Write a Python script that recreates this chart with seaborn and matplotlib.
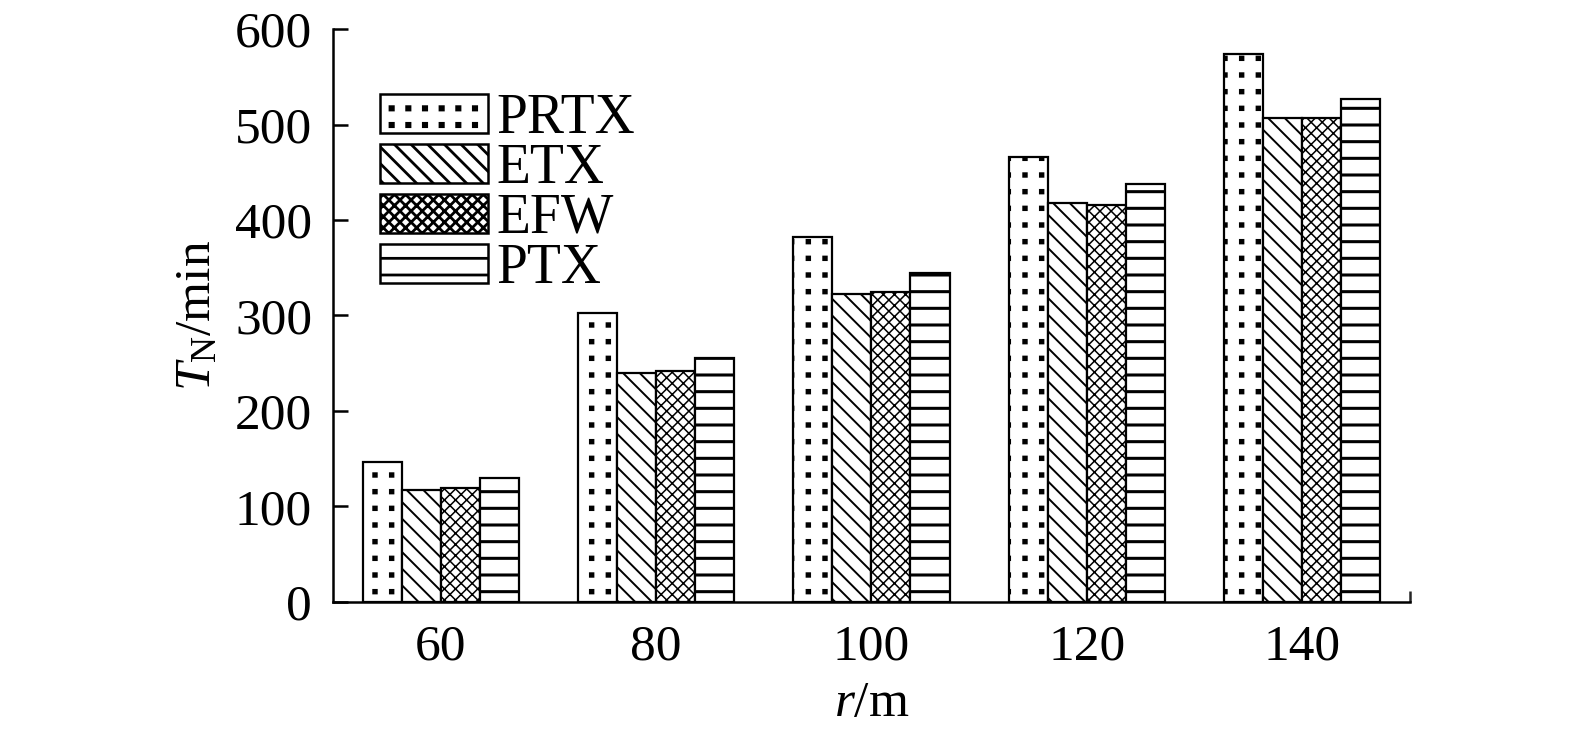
import matplotlib
matplotlib.use("Agg")
import matplotlib.pyplot as plt
import matplotlib.hatch as mhatch
from matplotlib.path import Path
import numpy as np
import seaborn as sns
import pandas as pd

categories = ["60", "80", "100", "120", "140"]
series_names = ["PRTX", "ETX", "EFW", "PTX"]
PRTX = [147, 303, 382, 466, 574]
ETX = [117, 240, 322, 418, 507]
EFW = [119, 242, 325, 416, 507]
PTX = [130, 256, 345, 438, 527]
y_ticks = [0, 100, 200, 300, 400, 500, 600]


# square-grid dot hatch (non-staggered filled squares) for '.'
class SquareDots(mhatch.HatchPatternBase):
    def __init__(self, hatch, density):
        self.num_rows = hatch.count('.') * density
        self.num_vertices = self.num_rows ** 2 * 5

    def set_vertices_and_codes(self, vertices, codes):
        n = self.num_rows
        h = 0.10 / n
        sq = np.array([[-h, -h], [h, -h], [h, h], [-h, h], [-h, -h]])
        sc = [Path.MOVETO, Path.LINETO, Path.LINETO, Path.LINETO, Path.CLOSEPOLY]
        vparts, cparts = [], []
        for i in range(n):
            for j in range(n):
                vparts.append(sq + [(i + 0.5) / n, (j + 0.5) / n])
                cparts.append(sc)
        np.concatenate(vparts, out=vertices)
        np.concatenate(cparts, out=codes)


mhatch._hatch_types[:] = [t for t in mhatch._hatch_types
                          if t is not mhatch.SmallFilledCircles] + [SquareDots]

sns.set_theme(style="white")
plt.rcParams["font.family"] = ["Liberation Serif", "DejaVu Serif"]
plt.rcParams["mathtext.fontset"] = "custom"
plt.rcParams["mathtext.rm"] = "Liberation Serif"
plt.rcParams["mathtext.it"] = "Liberation Serif:italic"
plt.rcParams["hatch.linewidth"] = 2.0
plt.rcParams["hatch.color"] = "black"
plt.rcParams["text.color"] = "black"

rows = []
for name, vals in zip(series_names, [PRTX, ETX, EFW, PTX]):
    for c, v in zip(categories, vals):
        rows.append({"r": c, "T": v, "method": name})
df = pd.DataFrame(rows)

fig = plt.figure(figsize=(15.75, 7.4), dpi=100)
ax = fig.add_axes([0.2114, 0.1865, 0.6838, 0.7743])

sns.barplot(data=df, x="r", y="T", hue="method", order=categories,
            hue_order=series_names, width=0.725, gap=0,
            palette=["white"] * 4, edgecolor="black", linewidth=1.6,
            ax=ax, legend=False, errorbar=None)

hatches = [".", "\\\\", "xxx", "-"]
hlw = [1.5, 1.4, 1.1, 2.2]
for cont, h, lw in zip(ax.containers, hatches, hlw):
    for p in cont.patches:
        p.set_hatch(h)
        p.set_facecolor("white")
        p.set_edgecolor("black")
        if hasattr(p, "set_hatch_linewidth"):
            p.set_hatch_linewidth(lw)

ax.set_xlim(-0.5, 4.5)
ax.set_ylim(0, 600)
ax.set_yticks(y_ticks)
ax.set_yticklabels([str(t) for t in y_ticks])
for s in ["top", "right"]:
    ax.spines[s].set_visible(False)
for s in ["left", "bottom"]:
    ax.spines[s].set_linewidth(1.8)
    ax.spines[s].set_color("black")

ax.tick_params(axis="y", direction="in", length=11, width=1.8, labelsize=37,
               pad=15, colors="black", left=True)
ax.tick_params(axis="x", length=0, labelsize=37, pad=16, colors="black")
ax.set_xticks([4.5], minor=True)
ax.tick_params(axis="x", which="minor", direction="in", length=8, width=1.8,
               bottom=True)

ax.set_xlabel(r"$r$/m", fontsize=37, color="black", labelpad=7)
ax.set_ylabel(r"$T_{\mathrm{N}}$/min", fontsize=37, color="black", labelpad=10)

leg = ax.legend(ax.containers, series_names, loc="upper left",
                bbox_to_anchor=(0.044, 0.888), frameon=False, fontsize=40,
                handlelength=1.94, handleheight=0.70, labelspacing=-0.04,
                handletextpad=0.15, borderpad=0, borderaxespad=0)
for h in leg.legend_handles:
    h.set_linewidth(1.8)
for t in leg.get_texts():
    t.set_color("black")

fig.savefig("out.png", dpi=100)
